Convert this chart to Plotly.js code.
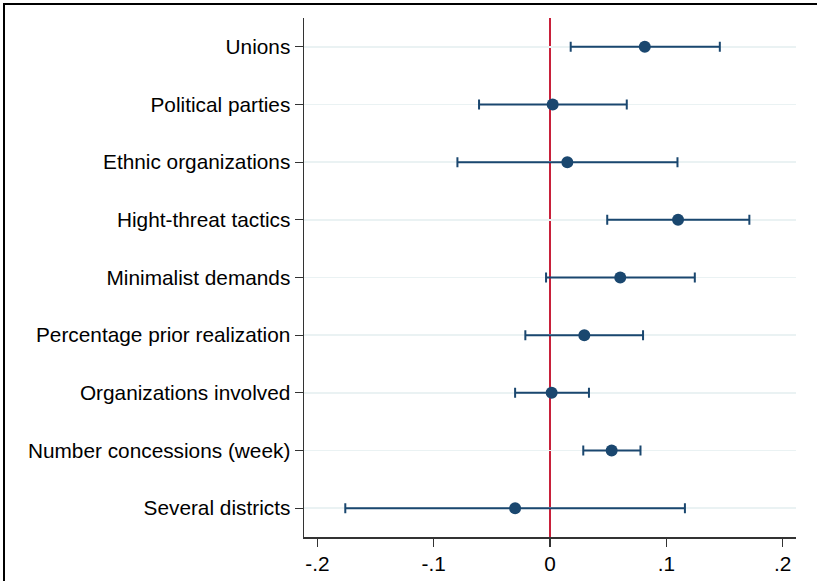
<!DOCTYPE html>
<html>
<head>
<meta charset="utf-8">
<script src="https://cdn.plot.ly/plotly-3.0.1.min.js"></script>
<style>
  html, body { margin: 0; padding: 0; background: #fff; overflow: hidden; }
  #chart { width: 817px; height: 581px; }
</style>
</head>
<body>
<div id="chart"></div>
<script>
const categories = [
  "Unions",
  "Political parties",
  "Ethnic organizations",
  "Hight-threat tactics",
  "Minimalist demands",
  "Percentage prior realization",
  "Organizations involved",
  "Number concessions (week)",
  "Several districts"
];
const estimates = [0.0815, 0.0023, 0.0149, 0.1101, 0.0604, 0.0295, 0.0014, 0.053, -0.030];
const lower     = [0.0178, -0.061, -0.0796, 0.0492, -0.0034, -0.0212, -0.030, 0.0286, -0.176];
const upper     = [0.146, 0.066, 0.1096, 0.1714, 0.1245, 0.080, 0.0335, 0.0778, 0.116];
const xTickVals = [-0.2, -0.1, 0, 0.1, 0.2];
const xTickText = ["-.2", "-.1", "0", ".1", ".2"];

const navy = "#1a476f";

const trace = {
  type: "scatter",
  mode: "markers",
  x: estimates,
  y: categories,
  marker: { color: navy, size: 12 },
  error_x: {
    type: "data",
    symmetric: false,
    array: upper.map((u, i) => u - estimates[i]),
    arrayminus: estimates.map((e, i) => e - lower[i]),
    color: navy,
    thickness: 2,
    width: 5
  },
  hoverinfo: "x+y",
  showlegend: false
};

// plot area spans x 304..796 and y 18..537 in pixels
const W = 492, H = 519;
const frameLeft = (4 - 304) / W;
const frameTop = (537 - 4) / H;

const layout = {
  width: 817,
  height: 581,
  margin: { l: 304, r: 21, t: 18, b: 44 },
  paper_bgcolor: "#ffffff",
  plot_bgcolor: "#ffffff",
  font: { family: "Liberation Sans, Arial, Helvetica, sans-serif", size: 20.8, color: "#000" },
  xaxis: {
    range: [-0.2115, 0.2115],
    tickvals: xTickVals,
    ticktext: xTickText,
    ticks: "outside",
    ticklen: 8,
    tickwidth: 1.2,
    tickcolor: "#333",
    showline: true,
    linecolor: "#333",
    linewidth: 1.5,
    showgrid: false,
    zeroline: false,
    tickfont: { size: 20.8, color: "#000" }
  },
  yaxis: {
    type: "category",
    categoryorder: "array",
    categoryarray: categories,
    range: [8.5, -0.5],
    ticks: "outside",
    ticklen: 8,
    tickwidth: 1.2,
    tickcolor: "#333",
    showline: true,
    linecolor: "#333",
    linewidth: 1.5,
    showgrid: true,
    gridcolor: "#eaf2f3",
    gridwidth: 1.6,
    zeroline: false,
    tickfont: { size: 20.8, color: "#000" }
  },
  shapes: [
    {
      type: "line",
      xref: "x", yref: "paper",
      x0: 0, x1: 0, y0: 0, y1: 1,
      line: { color: "#c8203a", width: 2 },
      layer: "below"
    },
    {
      type: "line",
      xref: "paper", yref: "paper",
      x0: frameLeft, x1: frameLeft, y0: -0.2, y1: frameTop + 0.002,
      line: { color: "#000", width: 2 },
      layer: "above"
    },
    {
      type: "line",
      xref: "paper", yref: "paper",
      x0: frameLeft, x1: 1.2, y0: frameTop, y1: frameTop,
      line: { color: "#000", width: 2 },
      layer: "above"
    }
  ]
};

Plotly.newPlot("chart", [trace], layout, { displayModeBar: false, staticPlot: true });
</script>
</body>
</html>
